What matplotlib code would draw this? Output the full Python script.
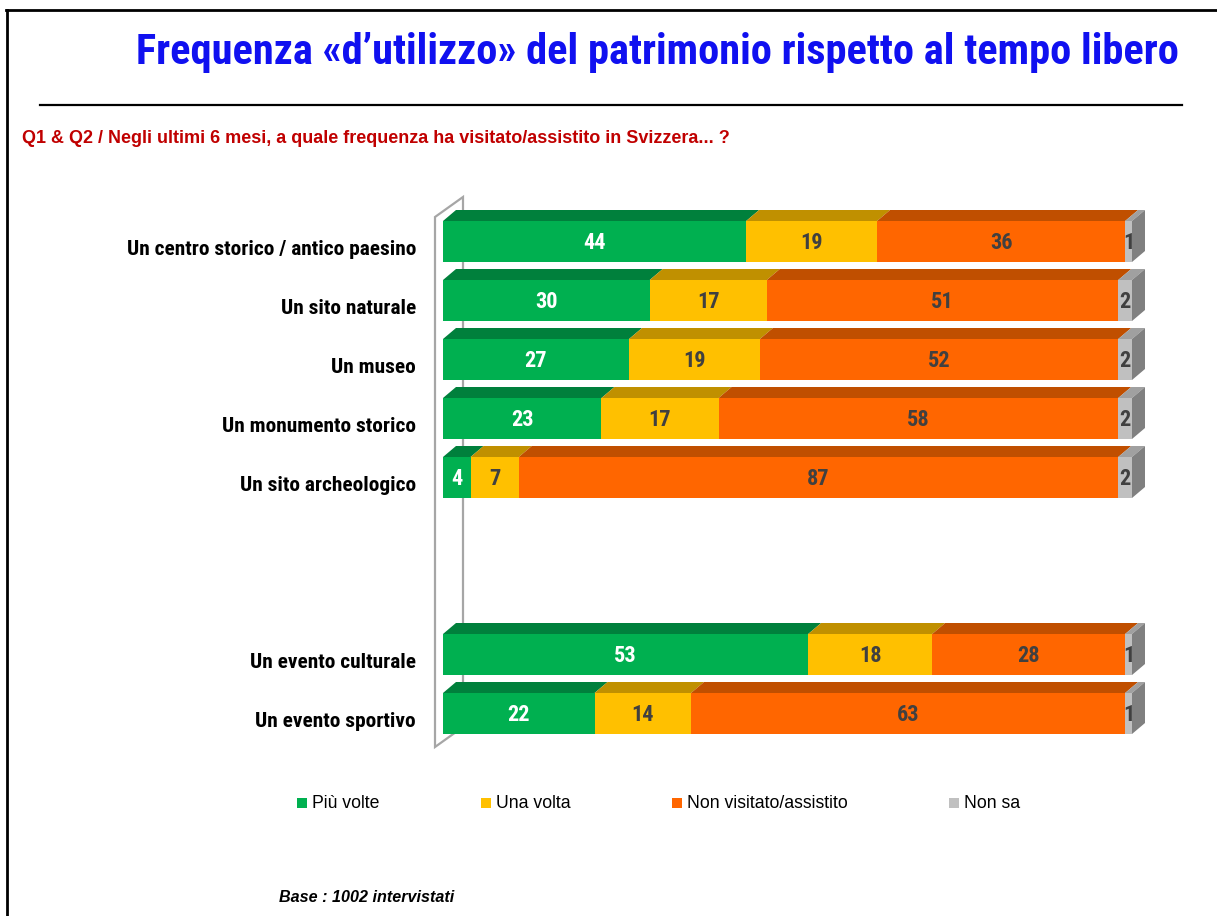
import matplotlib
matplotlib.use("Agg")
import matplotlib.pyplot as plt
from matplotlib.patches import Polygon, Rectangle
from matplotlib.lines import Line2D
from matplotlib import font_manager

# ---------------- data ----------------
categories = ["Un centro storico / antico paesino", "Un sito naturale", "Un museo",
              "Un monumento storico", "Un sito archeologico",
              "Un evento culturale", "Un evento sportivo"]
positions = [0, 1, 2, 3, 4, 7, 8]
piu_volte = [44, 30, 27, 23, 4, 53, 22]
una_volta = [19, 17, 19, 17, 7, 18, 14]
non_visitato = [36, 51, 52, 58, 87, 28, 63]
non_sa = [1, 2, 2, 2, 2, 1, 1]
series_names = ["Più volte", "Una volta", "Non visitato/assistito", "Non sa"]

title = "Frequenza «d’utilizzo» del patrimonio rispetto al tempo libero"
subtitle = "Q1 & Q2 / Negli ultimi 6 mesi, a quale frequenza ha visitato/assistito in Svizzera... ?"
base_note = "Base : 1002 intervistati"

# ---------------- style ----------------
front_cols = ["#00B050", "#FFC000", "#FF6600", "#C0C0C0"]
top_cols = ["#00803C", "#C09000", "#C04F00", "#A0A0A0"]
side_col = "#808080"
label_cols = ["white", "#404040", "#404040", "#404040"]

fonts = font_manager.fontManager.ttflist
def has_bold(name):
    return any(f.name == name and f.weight in (600, 700, 800, "bold") for f in fonts)

NARROW = "Liberation Sans"
for cand in ["Archivo Narrow", "Roboto Condensed", "PT Sans Narrow",
             "Open Sans Condensed", "IBM Plex Sans Condensed"]:
    if has_bold(cand):
        NARROW = cand
        break
REG = "Liberation Sans"

W, H = 1217, 916
fig = plt.figure(figsize=(W / 100, H / 100), dpi=100)
fig.patch.set_facecolor("white")
renderer = fig.canvas.get_renderer()

def fx(px):
    return px / W

def fy(py):
    return 1 - py / H

def fit_size(text, target_px, family, weight="bold", style="normal", base=20.0):
    t = fig.text(0, 0, text, fontsize=base, family=family, fontweight=weight, style=style)
    w = t.get_window_extent(renderer).width
    t.remove()
    return base * target_px / w

fs_title = fit_size(title, 1041, [NARROW, REG])
fs_sub = fit_size(subtitle, 705, [REG])
fs_cat = fit_size(categories[0], 289, [NARROW, REG])
fs_val = fit_size("44", 22.5, [NARROW, REG])
fs_leg = fit_size(series_names[2], 160, [REG], weight="normal")
fs_base = fit_size(base_note, 174, [REG], style="italic")

# axes: x 0..100 -> px 443..1132 ; rows spaced 59 px
ax_top, ax_bot = 190, 760
ax = fig.add_axes([fx(443), fy(ax_bot), 689 / W, (ax_bot - ax_top) / H])
row_px = 59.0
ymin = -(241.5 - ax_top) / row_px
ymax = ymin + (ax_bot - ax_top) / row_px
ax.set_xlim(0, 100)
ax.set_ylim(ymax, ymin)
ax.axis("off")

bar_h = 41 / row_px          # front face height in row units
dx = 13 / 6.89               # depth offset in % units
dy = 11 / row_px             # depth offset in row units

# wall (back/left)
wdx = 28 / 6.89
wdy = 20 / row_px
xf, xb = -8 / 6.89, -8 / 6.89 + wdx
yt_f = positions[0] - 24.5 / row_px
yb_f = positions[-1] + 33.5 / row_px
wall = Polygon([(xf, yt_f), (xb, yt_f - wdy), (xb, yb_f - wdy), (xf, yb_f)],
               closed=True, facecolor="white", edgecolor="#A6A6A6", lw=1.6,
               clip_on=False, zorder=0)
ax.add_patch(wall)

series = [piu_volte, una_volta, non_visitato, non_sa]
for i, pos in enumerate(positions):
    left = 0
    y_top = pos - bar_h / 2
    for s, vals in enumerate(series):
        v = vals[i]
        ax.add_patch(Polygon([(left, y_top), (left + dx, y_top - dy),
                              (left + v + dx, y_top - dy), (left + v, y_top)],
                             closed=True, facecolor=top_cols[s], edgecolor="none",
                             clip_on=False, zorder=2))
        left += v
    left = 0
    for s, vals in enumerate(series):
        v = vals[i]
        ax.barh(pos, v, left=left, height=bar_h, color=front_cols[s],
                edgecolor="none", zorder=3)
        left += v
    ax.add_patch(Polygon([(left, y_top), (left + dx, y_top - dy),
                          (left + dx, y_top + bar_h - dy), (left, y_top + bar_h)],
                         closed=True, facecolor=side_col, edgecolor="none",
                         clip_on=False, zorder=3))
    left = 0
    for s, vals in enumerate(series):
        v = vals[i]
        ax.annotate(str(v), (left + v / 2, pos), xytext=(0, -0.70 * fs_val / 2),
                    textcoords="offset points", ha="center", va="baseline",
                    fontsize=fs_val, fontweight="bold", family=[NARROW, REG],
                    color=label_cols[s], zorder=5, annotation_clip=False)
        left += v
    ax.annotate(categories[i], (0, pos), xycoords=("axes fraction", "data"),
                xytext=(-27 * 0.72, -13.5 * 0.72), textcoords="offset points",
                ha="right", va="baseline", fontsize=fs_cat, fontweight="bold",
                family=[NARROW, REG], color="black", annotation_clip=False)

# ---------------- texts ----------------
fig.text(fx(657.5), fy(64), title, ha="center", va="baseline",
         fontsize=fs_title, fontweight="bold", family=[NARROW, REG], color="#1010F0")
fig.add_artist(Line2D([fx(40), fx(1182)], [fy(105), fy(105)], color="black", lw=1.6))
fig.text(fx(22), fy(143), subtitle, ha="left", va="baseline",
         fontsize=fs_sub, fontweight="bold", family=[REG], color="#C00000")

# frame
fig.add_artist(Line2D([fx(6), 1], [fy(10), fy(10)], color="black", lw=2))
fig.add_artist(Line2D([fx(7), fx(7)], [fy(10), 0], color="black", lw=2))

# legend
leg_x = [297, 481, 672, 949]
for s, name in enumerate(series_names):
    fig.add_artist(Rectangle((fx(leg_x[s]), fy(808)), 10 / W, 10 / H,
                             facecolor=front_cols[s], edgecolor="none",
                             transform=fig.transFigure))
    fig.text(fx(leg_x[s] + 15), fy(803), name, ha="left", va="center",
             fontsize=fs_leg, family=[REG], color="black")

fig.text(fx(279), fy(902), base_note, ha="left", va="baseline",
         fontsize=fs_base, fontweight="bold", style="italic", family=[REG], color="black")

fig.savefig("out.png", dpi=100, facecolor="white")
